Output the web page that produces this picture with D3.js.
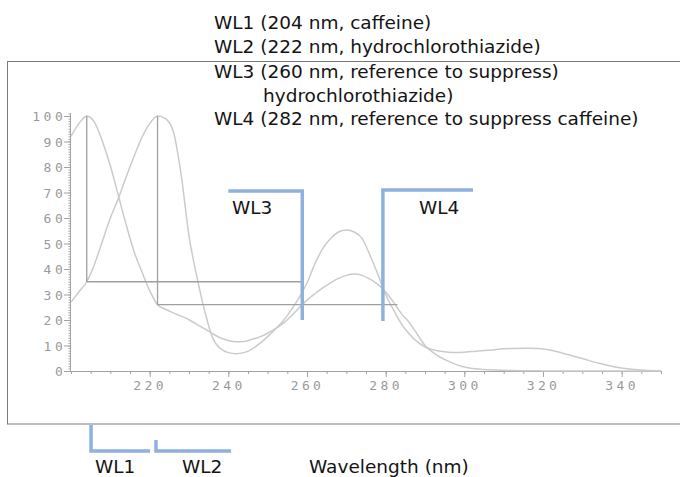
<!DOCTYPE html>
<html>
<head>
<meta charset="utf-8">
<script src="https://cdn.jsdelivr.net/npm/d3@7"></script>
<style>
  html, body { margin: 0; padding: 0; background: #fff; }
  svg { display: block; }
</style>
</head>
<body>
<svg id="chart" width="680" height="477"></svg>
<script>
// ---- data ----
const wavelengths = [200,202,204,206,208,210,212,214,216,218,220,222,224,226,228,230,232,234,236,238,240,242,244,246,248,250,252,254,256,258,260,262,264,266,268,270,272,274,276,278,280,282,284,286,288,290,292,294,296,298,300,302,304,306,308,312,316,319,322,326,330,334,338,342,346,350];
const caffeine = [92,97,100,97.5,90,80.5,69,57.5,47,39,31.5,26,24.2,22.8,21.5,20.1,18.3,16.5,14.6,13,12,11.5,11.6,12.4,13.4,14.8,16.6,18.8,21.6,24.8,27.8,30.3,32.6,34.6,36.3,37.5,38,37.5,36,34,31,27,22.5,19,14.5,10,7.3,5.3,3.8,2.5,1.6,1.0,0.7,0.5,0.35,0.2,0.1,0.05,0,0,0,0,0,0,0,0];
const hctz = [27,31,35,42,51,60,67.5,76,84,91.5,97,100,99,94,77,53,37,23.5,13,8.8,7.2,6.8,7.2,8.6,10.8,13.5,16.5,19.8,24,28.8,34.5,42,48,52,54.5,55.3,54.5,52,45.5,38,30,24,18.5,14.5,11.5,9.4,8.3,7.7,7.4,7.3,7.4,7.6,7.9,8.1,8.4,8.8,8.9,8.8,8.1,6.6,4.9,3.1,1.7,0.8,0.3,0.1];

const xMajorTicks = [220,240,260,280,300,320,340];
const yMajorTicks = [0,10,20,30,40,50,60,70,80,90,100];

// reference construction lines (grey)
const refVertical = [ {nm:204, lo:35, hi:100}, {nm:222, lo:26, hi:100} ];
const refHorizontal = [ {value:35, from:204, to:259}, {value:26, from:222, to:283} ];

// blue wavelength brackets inside the plot
const bracketWL3 = {left:240, right:258.8, top:70.6, bottom:20};
const bracketWL4 = {left:279.3, right:302.2, top:71, bottom:19.6};
// blue brackets below the frame (x in nm)
const bracketWL1 = {from:205.1, to:220.1};
const bracketWL2 = {from:221.6, to:240.7};

const headerLines = [
  {text:"WL1 (204 nm, caffeine)", indent:false},
  {text:"WL2 (222 nm, hydrochlorothiazide)", indent:false},
  {text:"WL3 (260 nm, reference to suppress)", indent:false},
  {text:"hydrochlorothiazide)", indent:true},
  {text:"WL4 (282 nm, reference to suppress caffeine)", indent:false}
];

// ---- drawing ----
const svg = d3.select("#chart");
const x = d3.scaleLinear().domain([200, 350]).range([71, 661]);
const y = d3.scaleLinear().domain([0, 100]).range([371, 116]);

const axisColor = "#a3a3a3";
const labelColor = "#9a9a9a";
const curveColor = "#cbcbcb";
const refColor = "#a0a0a0";
const blue = "#8fb1df";
const textFont = "'DejaVu Sans', sans-serif";
const monoFont = "'DejaVu Sans Mono', monospace";

// frame
svg.append("rect").attr("x", 7.5).attr("y", 61.5).attr("width", 690).attr("height", 362.5)
  .attr("fill", "none").attr("stroke", "#7a7a7a").attr("stroke-width", 1);

// header text
const headerBaselines = [29, 52.5, 78, 101.5, 125];
svg.append("g").selectAll("text").data(headerLines).join("text")
  .attr("x", d => d.indent ? 263 : 214)
  .attr("y", (d, i) => headerBaselines[i])
  .attr("font-family", textFont).attr("font-size", 18.5).attr("fill", "#141414")
  .text(d => d.text);

// axes
const gx = svg.append("g").attr("transform", `translate(0,${y(0)})`);
gx.call(d3.axisBottom(x).tickValues(d3.range(200, 351, 5)).tickSize(3).tickFormat(""));
gx.append("g").call(d3.axisBottom(x).tickValues(xMajorTicks).tickSize(6).tickFormat(d3.format("d")))
  .call(g => g.select(".domain").remove());
gx.selectAll("path.domain").attr("stroke", axisColor);
gx.selectAll("line").attr("stroke", axisColor);
gx.selectAll("text").attr("y", 19).attr("dy", 0).attr("dx", 0)
  .attr("font-family", monoFont).attr("font-size", 13).attr("fill", labelColor)
  .style("letter-spacing", "3.4px");

const gy = svg.append("g").attr("transform", `translate(${x(200)},0)`);
gy.call(d3.axisLeft(y).tickValues(d3.range(0, 102, 1)).tickSize(2.5).tickFormat(""));
gy.select(".domain").attr("d", `M-0.5,${y(0)}V${y(101)}`);
gy.append("g").call(d3.axisLeft(y).tickValues(yMajorTicks).tickSize(7).tickPadding(1).tickFormat(d3.format("d")))
  .call(g => g.select(".domain").remove());
gy.selectAll("path.domain").attr("stroke", axisColor);
gy.selectAll("line").attr("stroke", axisColor);
gy.selectAll("text").attr("dx", 3.4).attr("dy", "0.36em")
  .attr("font-family", monoFont).attr("font-size", 13).attr("fill", labelColor)
  .style("letter-spacing", "3.6px");

// curves
const line = d3.line().x(d => x(d[0])).y(d => y(d[1])).curve(d3.curveMonotoneX);
[caffeine, hctz].forEach(series => {
  svg.append("path").datum(wavelengths.map((w, i) => [w, series[i]]))
    .attr("d", line).attr("fill", "none").attr("stroke", curveColor).attr("stroke-width", 1.5);
});

// reference lines
svg.append("g").selectAll("line.v").data(refVertical).join("line")
  .attr("x1", d => x(d.nm)).attr("x2", d => x(d.nm))
  .attr("y1", d => y(d.lo)).attr("y2", d => y(d.hi))
  .attr("stroke", refColor).attr("stroke-width", 1.3);
svg.append("g").selectAll("line.h").data(refHorizontal).join("line")
  .attr("x1", d => x(d.from)).attr("x2", d => x(d.to))
  .attr("y1", d => y(d.value)).attr("y2", d => y(d.value))
  .attr("stroke", refColor).attr("stroke-width", 1.3);

// blue brackets in plot
svg.append("path")
  .attr("d", `M${x(bracketWL3.left)},${y(bracketWL3.top)}H${x(bracketWL3.right)}V${y(bracketWL3.bottom)}`)
  .attr("fill", "none").attr("stroke", blue).attr("stroke-width", 3.5);
svg.append("path")
  .attr("d", `M${x(bracketWL4.left)},${y(bracketWL4.bottom)}V${y(bracketWL4.top)}H${x(bracketWL4.right)}`)
  .attr("fill", "none").attr("stroke", blue).attr("stroke-width", 3.5);
svg.append("text").attr("x", 232).attr("y", 213.5).attr("font-family", textFont)
  .attr("font-size", 18.5).attr("fill", "#141414").text("WL3");
svg.append("text").attr("x", 419).attr("y", 213.5).attr("font-family", textFont)
  .attr("font-size", 18.5).attr("fill", "#141414").text("WL4");

// blue brackets below frame
svg.append("path")
  .attr("d", `M${x(bracketWL1.from)},425V451H${x(bracketWL1.to)}`)
  .attr("fill", "none").attr("stroke", blue).attr("stroke-width", 3.5);
svg.append("path")
  .attr("d", `M${x(bracketWL2.from)},440V451H${x(bracketWL2.to)}`)
  .attr("fill", "none").attr("stroke", blue).attr("stroke-width", 3.5);
svg.append("text").attr("x", 95).attr("y", 473).attr("font-family", textFont)
  .attr("font-size", 18.5).attr("fill", "#141414").text("WL1");
svg.append("text").attr("x", 182).attr("y", 473).attr("font-family", textFont)
  .attr("font-size", 18.5).attr("fill", "#141414").text("WL2");
svg.append("text").attr("x", 309).attr("y", 473).attr("font-family", textFont)
  .attr("font-size", 18.5).attr("fill", "#141414").text("Wavelength (nm)");
</script>
</body>
</html>
